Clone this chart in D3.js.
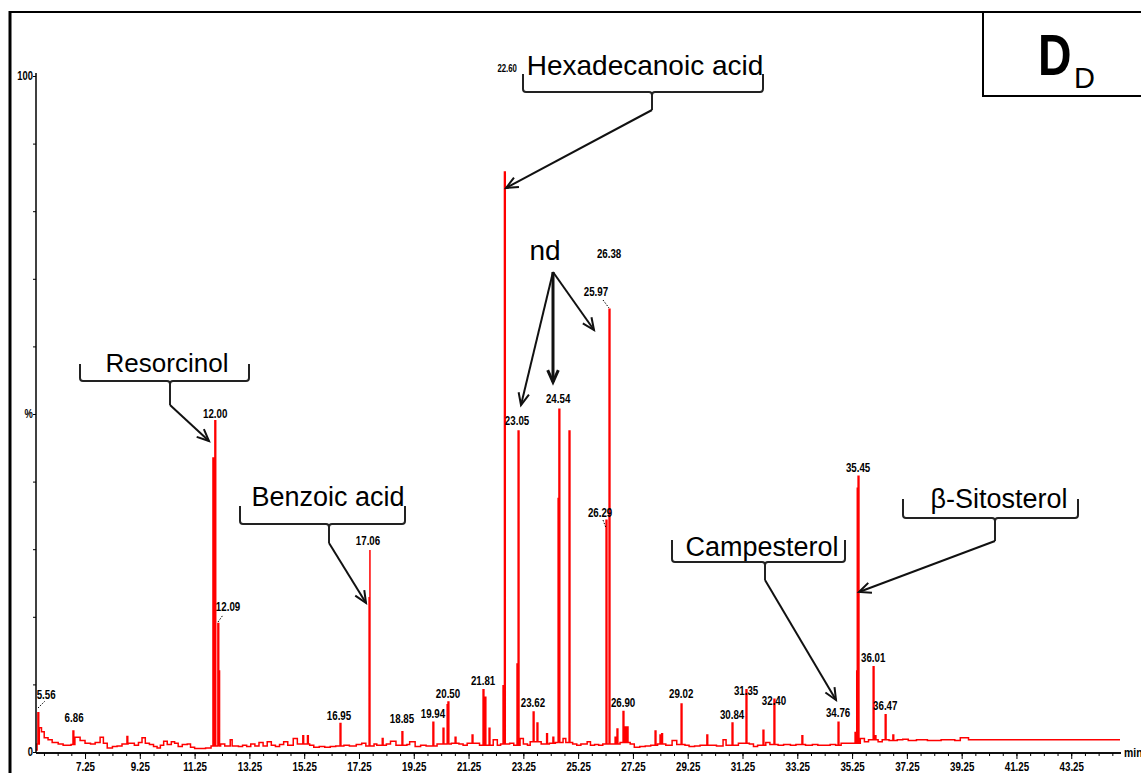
<!DOCTYPE html>
<html><head><meta charset="utf-8">
<script src="https://cdn.jsdelivr.net/npm/d3@7"></script>
<style>
body{margin:0;background:#fff;}
svg{display:block;}
.nar{font-family:"Liberation Sans",Arial,sans-serif;font-weight:bold;}
.ann{font-family:"Liberation Sans",Arial,sans-serif;}
</style></head><body>
<svg id="c" width="1141" height="773"></svg>
<script>
// ---- data (retention time in min, relative abundance in %) ----
const baseline = [
[5.46,0.3],[5.50,1.2],[5.58,3.6],[5.66,3.0],[5.76,2.1],[5.90,1.8],[6.05,1.4],[6.27,1.2],[6.45,1.0],[6.63,1.0],[6.74,1.1],[6.88,2.2],[7.07,1.7],[7.25,1.3],[7.45,1.2],[7.62,1.4],[7.80,2.2],[7.92,1.3],[8.06,0.6],[8.25,0.8],[8.42,0.9],[8.60,1.2],[8.82,1.3],[9.05,1.0],[9.20,1.4],[9.33,2.1],[9.45,1.3],[9.60,1.1],[9.75,0.8],[9.88,0.6],[10.00,1.0],[10.12,1.6],[10.25,1.1],[10.40,1.5],[10.52,1.3],[10.65,0.8],[10.80,1.1],[10.98,1.2],[11.10,0.7],[11.25,0.5],[11.45,0.5],[11.65,0.6],[11.85,0.9],[12.20,1.2],[12.35,0.9],[12.55,1.8],[12.62,0.9],[12.85,0.8],[13.00,1.0],[13.15,0.8],[13.30,1.2],[13.45,0.9],[13.60,1.4],[13.75,0.9],[13.90,1.5],[14.05,1.0],[14.20,0.8],[14.35,1.1],[14.50,1.5],[14.65,1.0],[14.85,2.0],[15.00,1.2],[15.45,1.0],[15.60,0.7],[15.80,0.8],[16.00,0.7],[16.20,0.8],[16.40,0.9],[16.70,1.0],[16.90,0.9],[17.15,1.1],[17.35,1.3],[17.50,0.9],[17.80,1.2],[17.90,1.0],[18.25,1.2],[18.40,1.6],[18.60,1.0],[19.00,1.1],[19.10,1.5],[19.30,0.8],[19.50,1.0],[19.70,0.9],[20.10,1.2],[20.62,1.3],[20.90,1.2],[21.05,1.0],[21.20,1.3],[21.50,1.3],[21.65,1.0],[22.15,1.8],[22.30,1.0],[22.42,1.2],[22.75,1.3],[22.90,1.0],[23.13,2.0],[23.25,1.2],[23.40,1.0],[23.50,1.5],[23.90,1.2],[24.20,1.3],[24.42,1.4],[24.70,2.0],[24.80,1.4],[25.05,1.2],[25.20,1.0],[25.35,1.2],[25.58,1.5],[25.70,1.0],[25.85,1.1],[26.00,1.0],[26.15,1.2],[26.50,1.2],[26.78,1.4],[27.15,1.2],[27.30,0.7],[27.50,0.8],[27.70,0.9],[27.90,1.0],[28.15,1.2],[28.45,1.0],[28.68,1.7],[28.85,1.1],[29.15,1.0],[29.30,0.8],[29.50,0.9],[29.70,1.0],[30.10,1.0],[30.30,0.9],[30.54,1.8],[30.65,1.0],[31.10,1.3],[31.50,1.2],[31.65,0.8],[31.80,1.0],[32.10,1.4],[32.25,1.1],[32.55,1.0],[32.75,1.1],[33.00,1.0],[33.20,1.1],[33.55,1.0],[33.80,1.1],[34.00,1.0],[34.20,1.0],[34.45,1.1],[34.65,1.0],[34.85,1.3],[35.00,1.3],[35.20,1.3],[35.55,2.0],[35.70,1.5],[35.85,1.8],[36.20,1.5],[36.35,1.8],[36.60,1.7],[36.90,1.8],[37.10,1.9],[37.30,1.7],[37.60,1.8],[38.00,1.7],[38.50,1.8],[39.00,1.7],[39.20,2.1],[39.50,1.8],[40.00,1.8],[41.00,1.8],[42.00,1.8],[43.00,1.8],[44.00,1.8],[45.03,1.8]
];
// peaks placed where they sit on the drawn time axis
const peaks = [
[5.53,5.8],[6.81,3.1],[8.78,2.3],[11.92,43.5],[11.99,49.0],[12.10,19.0],[12.13,12.0],
[15.20,2.4],[15.37,2.4],[16.56,4.2],[17.62,22.8],[17.65,29.9],[18.10,2.0],[18.82,3.0],
[19.95,4.4],[20.32,3.5],[20.47,7.0],[20.50,7.4],[20.76,2.2],[21.38,2.5],[21.78,9.2],[21.85,8.1],
[22.00,3.5],[22.51,9.8],[22.56,85.8],[23.02,13.0],[23.06,47.5],[23.61,5.9],[23.75,4.3],
[24.10,2.7],[24.33,2.2],[24.52,37.5],[24.55,50.7],[24.58,47.3],[24.92,47.5],
[26.27,34.3],[26.38,65.5],[26.60,2.2],[26.67,3.4],[26.89,6.0],[26.97,3.7],[27.04,3.7],
[28.06,3.1],[28.24,2.5],[28.30,2.7],[29.01,7.1],[29.95,2.5],[30.87,4.3],[31.38,9.2],
[32.00,3.2],[32.40,7.8],[33.42,2.4],[34.74,4.4],[35.36,2.9],[35.42,12.0],[35.44,39.0],
[35.47,40.8],[36.02,12.6],[36.09,2.4],[36.46,5.5],[36.74,2.5]
];
// peak labels: text, anchor time, anchor level (%)
const peakLabels = [
["5.56",5.83,7.8],["6.86",6.85,4.4],["12.00",12.00,49.4],["12.09",12.47,20.8],
["16.95",16.52,4.7],["17.06",17.58,30.6],["18.85",18.82,4.3],["19.94",19.95,5.0],
["20.50",20.50,8.0],["21.81",21.78,9.9],["23.05",23.02,48.4],["23.62",23.60,6.7],
["24.54",24.52,51.6],["25.97",25.90,67.5],["26.38",26.38,73.1],["26.29",26.05,34.8],
["26.90",26.89,6.7],["29.02",29.01,8.0],["30.84",30.87,4.9],["31.35",31.38,8.4],
["32.40",32.40,7.0],["34.76",34.74,5.2],["35.45",35.47,41.4],["36.01",36.02,13.3],
["36.47",36.46,6.2]
];
const smallLabel = ["22.60",22.66,100.6];
const xTickLabels = [7.25,9.25,11.25,13.25,15.25,17.25,19.25,21.25,23.25,25.25,27.25,29.25,31.25,33.25,35.25,37.25,39.25,41.25,43.25];
const yTickValues = [0,10,20,30,40,50,60,70,80,90,100];
const compounds = ["Hexadecanoic acid","Resorcinol","Benzoic acid","Campesterol","β-Sitosterol"];

// ---- layout ----
const svg = d3.select("#c");
const x = d3.scaleLinear().domain([5.46,45.03]).range([36,1120]);
const y = d3.scaleLinear().domain([0,100]).range([752,76]);
const SX = 0.78;

// frame
svg.append("line").attr("x1",10).attr("x2",10).attr("y1",11).attr("y2",773).attr("stroke","#000").attr("stroke-width",3);
svg.append("line").attr("x1",9).attr("x2",1141).attr("y1",12).attr("y2",12).attr("stroke","#000").attr("stroke-width",2);
svg.append("path").attr("d","M983,12V96H1141").attr("fill","none").attr("stroke","#000").attr("stroke-width",2);
svg.append("text").attr("transform","translate(1038,75) scale(0.8,1)").attr("class","nar").attr("font-size",58).text("D");
svg.append("text").attr("x",1074).attr("y",88).attr("class","ann").attr("font-size",29).text("D");

// trace
const pts = baseline.map(d=>({t:d[0],v:d[1]}));
peaks.forEach(p=>{
  let b = baseline[0][1];
  for(const d of baseline){ if(d[0]<=p[0]) b=d[1]; }
  pts.push({t:p[0],v:p[1]});
  pts.push({t:p[0]+0.03,v:b});
});
pts.sort((a,b)=>a.t-b.t);
const line = d3.line().x(d=>x(d.t)).y(d=>y(d.v)).curve(d3.curveStepAfter);
svg.append("path").datum(pts).attr("d",line).attr("fill","none").attr("stroke","#ff0000").attr("stroke-width",1.5);

// axes
const minor = d3.range(5.75,45.0,0.5);
const gx = svg.append("g").attr("transform","translate(0,753)");
gx.append("g").call(d3.axisBottom(x).tickValues(minor).tickSize(3).tickFormat("").tickSizeOuter(0));
gx.append("g").call(d3.axisBottom(x).tickValues(xTickLabels).tickSize(6).tickPadding(3).tickSizeOuter(0).tickFormat(d3.format(".2f")));
gx.selectAll("path.domain").attr("stroke","#000").attr("stroke-width",1.5).attr("d","M36,0H1121");
gx.selectAll("line").attr("stroke","#000");
gx.selectAll("text").attr("class","nar").attr("font-size",12.5).attr("fill","#000").attr("transform",`scale(${SX},1)`);
svg.append("text").attr("transform","translate(1124,757) scale(0.8,1)").attr("class","nar").attr("font-size",13).text("min");

const gy = svg.append("g").attr("transform","translate(36,0)");
gy.call(d3.axisLeft(y).tickValues(yTickValues).tickSize(3).tickPadding(1).tickSizeOuter(0)
  .tickFormat(d=> d===100?"100":d===50?"%":d===0?"0":""));
gy.select("path.domain").attr("stroke","#000").attr("stroke-width",1.5).attr("d","M0,73V753");
gy.selectAll("line").attr("stroke","#000");
gy.selectAll("text").attr("class","nar").attr("font-size",12).attr("fill","#000").attr("transform",`scale(${SX},1)`);

// peak labels
svg.append("g").selectAll("text").data(peakLabels).join("text")
  .attr("class","nar").attr("font-size",12.5).attr("text-anchor","middle")
  .attr("transform",d=>`translate(${x(d[1])},${y(d[2])}) scale(${SX},1)`).text(d=>d[0]);
svg.append("text").attr("class","nar").attr("font-size",10).attr("text-anchor","middle")
  .attr("transform",`translate(${x(smallLabel[1])},${y(smallLabel[2])}) scale(${SX},1)`).text(smallLabel[0]);

// dotted leaders
[[38,708,45,701],[218,622,223,615],[603,300,609,308],[603,520,606,528]].forEach(l=>{
  svg.append("line").attr("x1",l[0]).attr("y1",l[1]).attr("x2",l[2]).attr("y2",l[3])
    .attr("stroke","#000").attr("stroke-width",1).attr("stroke-dasharray","1.5,1.5");
});

// callouts
function arrow(x1,y1,x2,y2,w){
  svg.append("line").attr("x1",x1).attr("y1",y1).attr("x2",x2).attr("y2",y2).attr("stroke","#111").attr("stroke-width",w||2);
  const a=Math.atan2(y2-y1,x2-x1), L=13;
  const p=[a+0.42,a-0.42].map(b=>[x2-L*Math.cos(b),y2-L*Math.sin(b)]);
  svg.append("path").attr("d",`M${p[0][0]},${p[0][1]}L${x2},${y2}L${p[1][0]},${p[1][1]}`)
    .attr("fill","none").attr("stroke","#111").attr("stroke-width",w||2);
}
function callout(name,tx,ty,fs,L,R,top,bot,sx,sb,ax,ay){
  svg.append("text").attr("class","ann").attr("font-size",fs).attr("text-anchor","middle").attr("x",tx).attr("y",ty).text(name);
  const r=3;
  svg.append("path").attr("d",
    `M${L},${top}V${bot-r}Q${L},${bot} ${L+r},${bot}H${sx-r}Q${sx},${bot} ${sx},${bot+r}V${sb}`+
    `M${R},${top}V${bot-r}Q${R},${bot} ${R-r},${bot}H${sx+r}Q${sx},${bot} ${sx},${bot+r}`)
    .attr("fill","none").attr("stroke","#222").attr("stroke-width",2);
  arrow(sx,sb,ax,ay,2);
}
callout(compounds[0],645,75,28,523,763,74,92,652,110,506,188);
callout(compounds[1],167,372,26,80,249,364,381,170,405,209,441);
callout(compounds[2],328,506,27,240,405,506,524,329,543,366,603);
callout(compounds[3],762,556,27,672,845,540,562,765,580,836,700);
callout(compounds[4],999,508,27,903,1078,499,518,995,541,859,592);

svg.append("text").attr("class","ann").attr("font-size",28).attr("text-anchor","middle").attr("x",545).attr("y",260).text("nd");
arrow(553,272,521,405,2);
arrow(553,272,553,382,3);
arrow(553,272,594,330,2);
</script></body></html>
